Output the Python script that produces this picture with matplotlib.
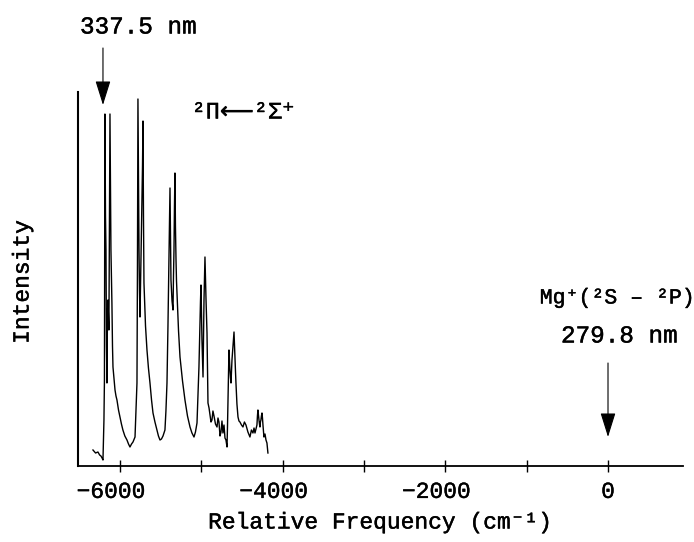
"""
Spectrum of the 2Pi <- 2Sigma+ bands, relative to the Mg+ resonance line
"""
import matplotlib
matplotlib.use("Agg")
import matplotlib.pyplot as plt
import matplotlib.patheffects as pe
import matplotlib.transforms as mtransforms
from matplotlib.ticker import FixedLocator, NullFormatter

# relative frequency (cm-1) and intensity (arb. units)
freq = [-6332, -6300, -6271, -6250, -6234, -6220, -6209, -6197, -6191, -6185,
        -6178, -6172, -6166, -6160, -6154, -6148, -6136, -6129, -6123, -6117,
        -6111, -6105, -6099, -6092, -6086, -6074, -6061, -6049, -6037, -6018,
        -6000, -5982, -5964, -5940, -5914, -5895, -5877, -5858, -5840, -5815,
        -5797, -5791, -5785, -5779, -5772, -5766, -5760, -5754, -5748, -5742,
        -5735, -5729, -5723, -5717, -5711, -5705, -5686, -5668, -5650, -5631,
        -5612, -5594, -5570, -5545, -5527, -5508, -5490, -5471, -5447, -5435,
        -5422, -5410, -5398, -5391, -5385, -5379, -5373, -5360, -5348, -5342,
        -5336, -5330, -5324, -5318, -5311, -5305, -5299, -5280, -5262, -5231,
        -5201, -5170, -5139, -5115, -5090, -5072, -5053, -5041, -5029, -5022,
        -5016, -5010, -5004, -4998, -4992, -4985, -4979, -4973, -4967, -4961,
        -4955, -4948, -4942, -4936, -4930, -4918, -4905, -4893, -4881, -4869,
        -4857, -4844, -4826, -4807, -4795, -4783, -4770, -4758, -4746, -4734,
        -4721, -4709, -4697, -4684, -4678, -4672, -4666, -4660, -4654, -4648,
        -4641, -4635, -4629, -4623, -4611, -4598, -4592, -4586, -4580, -4574,
        -4562, -4549, -4537, -4525, -4506, -4488, -4470, -4451, -4427, -4402,
        -4384, -4365, -4352, -4340, -4328, -4316, -4310, -4304, -4297, -4291,
        -4285, -4279, -4273, -4267, -4261, -4254, -4248, -4242, -4230, -4217,
        -4205, -4193, -4181]
intensity = [16, 13, 14, 11, 10, 8, 6, 46, 86, 352,
             250, 216, 120, 83, 150, 166, 136, 260, 352, 290,
             216, 190, 163, 120, 99, 88, 76, 70, 66, 56,
             49, 42, 36, 30, 26, 22, 19, 22, 24, 29,
             70, 83, 200, 367, 280, 216, 175, 149, 180, 206,
             240, 266, 300, 345, 250, 183, 140, 116, 98, 83,
             66, 53, 44, 36, 30, 26, 27, 30, 36, 55,
             83, 140, 206, 250, 278, 230, 186, 165, 156, 190,
             216, 260, 293, 240, 206, 185, 173, 135, 109, 85,
             66, 50, 39, 33, 29, 34, 43, 70, 99, 125,
             146, 165, 181, 150, 126, 105, 89, 130, 166, 190,
             209, 185, 166, 150, 133, 63, 58, 51, 44, 46,
             55, 50, 42, 39, 48, 44, 30, 34, 45, 33,
             41, 28, 26, 19, 40, 66, 95, 116, 105, 96,
             88, 83, 95, 106, 120, 134, 120, 106, 95, 83,
             62, 49, 45, 44, 41, 39, 44, 41, 34, 29,
             36, 33, 38, 33, 37, 41, 50, 56, 50, 46,
             42, 39, 44, 46, 50, 53, 48, 41, 29, 32,
             26, 23, 13]

major_ticks = [-6000, -4000, -2000, 0]
minor_ticks = [-5000, -3000, -1000]
tick_labels = ["\u22126000", "\u22124000", "\u22122000", "0"]

band_origin = -6209   # 337.5 nm
mg_line = 0           # 279.8 nm

FONT = ["Liberation Mono", "DejaVu Sans Mono", "DejaVu Sans"]
FONT_ARROW = ["Liberation Mono", "DejaVu Sans"]
HEAVY = [pe.withStroke(linewidth=0.3, foreground="black")]
W, H = 694, 542

fig = plt.figure(figsize=(W / 100, H / 100), dpi=100)
ax = fig.add_axes([78 / W, 1 - 466 / H, (683 - 78) / W, (466 - 92) / H])

ax.plot(freq, intensity, color="black", lw=1.0)

ax.set_xlim(-6516, 922)
ax.set_ylim(0, 374)
ax.spines["top"].set_visible(False)
ax.spines["right"].set_visible(False)
ax.spines["left"].set_linewidth(1.5)
ax.spines["bottom"].set_linewidth(1.3)
ax.set_yticks([])

ax.xaxis.set_major_locator(FixedLocator(major_ticks))
ax.xaxis.set_minor_locator(FixedLocator(minor_ticks))
ax.xaxis.set_minor_formatter(NullFormatter())
ax.set_xticklabels(tick_labels, family=FONT, fontsize=16.5)
ax.tick_params(axis="x", which="both", direction="inout", length=8, width=1, pad=6)

# shift negative labels so the digits sit centred under the tick
shift = mtransforms.ScaledTranslation(-9 / 100, 0, fig.dpi_scale_trans)
for lab in ax.get_xticklabels():
    lab.set_path_effects(HEAVY)
    if lab.get_text().startswith("\u2212"):
        lab.set_transform(lab.get_transform() + shift)

fig.text(380 / W, 1 - 522 / H, "Relative Frequency (cm\u207b\u00b9)",
         family=FONT, fontsize=16.5, ha="center", va="center", path_effects=HEAVY)
fig.text(22 / W, 1 - 282 / H, "Intensity", family=FONT, fontsize=16.5,
         rotation=90, ha="center", va="center", path_effects=HEAVY)

arrow = dict(arrowstyle="-|>,head_length=0.8,head_width=0.25",
             mutation_scale=19, color="black", lw=0.8, shrinkA=0, shrinkB=0)
ax.annotate("", xy=(band_origin, 466 - 105), xytext=(band_origin, 466 - 48),
            arrowprops=arrow, annotation_clip=False)
ax.annotate("", xy=(mg_line, 466 - 437), xytext=(mg_line, 466 - 363),
            arrowprops=arrow, annotation_clip=False)

fig.text(138 / W, 1 - 27 / H, "337.5 nm", family=FONT, fontsize=17.5,
         ha="center", va="center", path_effects=HEAVY)
fig.text(243 / W, 1 - 112 / H, "\u00b2\u03a0\u27f5\u00b2\u03a3\u207a",
         family=FONT_ARROW, fontsize=17, ha="center", va="center", path_effects=HEAVY)
fig.text(617 / W, 1 - 298 / H, "Mg\u207a(\u00b2S \u2013 \u00b2P)", family=FONT,
         fontsize=15.5, ha="center", va="center", path_effects=HEAVY)
fig.text(619 / W, 1 - 336 / H, "279.8 nm", family=FONT, fontsize=17.5,
         ha="center", va="center", path_effects=HEAVY)

fig.savefig("out.png", dpi=100)
